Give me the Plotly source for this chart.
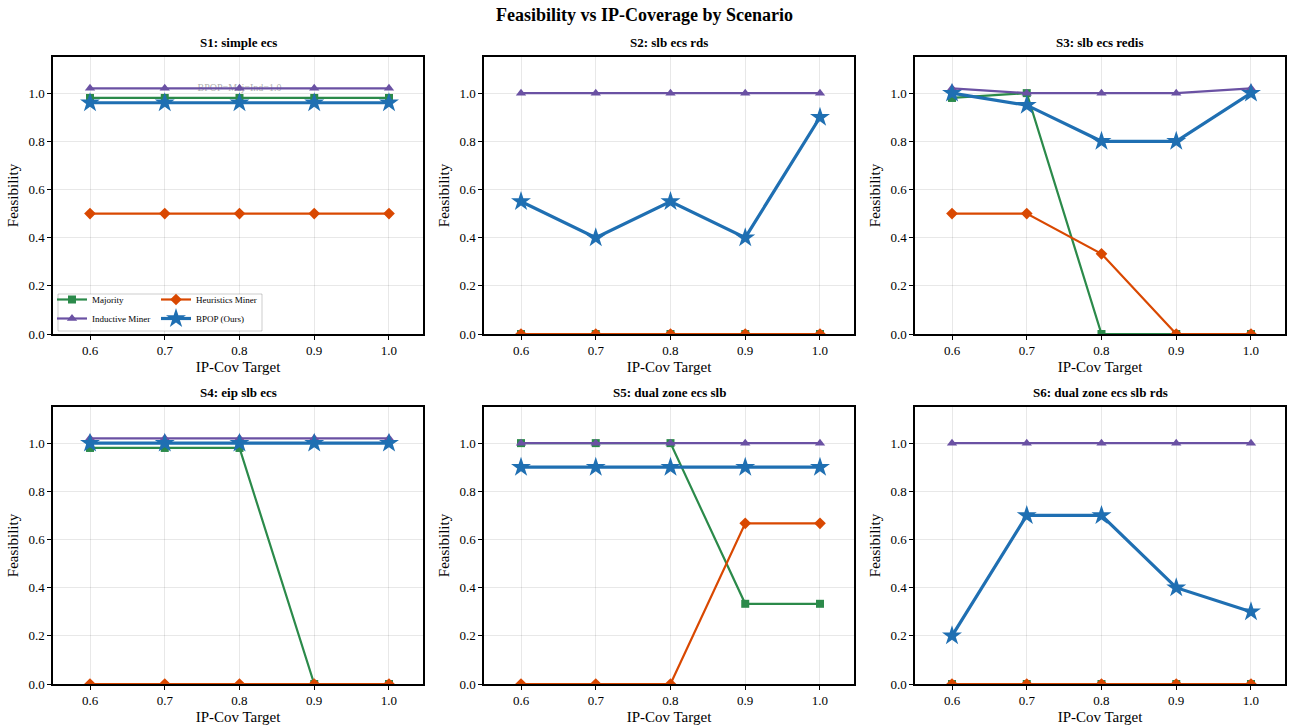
import plotly.graph_objects as go
from plotly.subplots import make_subplots

x_targets = [0.6, 0.7, 0.8, 0.9, 1.0]
scenario_titles = ["S1: simple ecs", "S2: slb ecs rds", "S3: slb ecs redis",
                   "S4: eip slb ecs", "S5: dual zone ecs slb", "S6: dual zone ecs slb rds"]

# plotted values (small offsets in the original to separate overlapping lines)
majority = [
    [0.98, 0.98, 0.98, 0.98, 0.98],
    [0.0, 0.0, 0.0, 0.0, 0.0],
    [0.98, 1.0, 0.0, 0.0, 0.0],
    [0.98, 0.98, 0.98, 0.0, 0.0],
    [1.0, 1.0, 1.0, 0.333, 0.333],
    [0.0, 0.0, 0.0, 0.0, 0.0],
]
inductive = [
    [1.02, 1.02, 1.02, 1.02, 1.02],
    [1.0, 1.0, 1.0, 1.0, 1.0],
    [1.02, 1.0, 1.0, 1.0, 1.02],
    [1.02, 1.02, 1.02, 1.02, 1.02],
    [1.0, 1.0, 1.0, 1.0, 1.0],
    [1.0, 1.0, 1.0, 1.0, 1.0],
]
heuristics = [
    [0.5, 0.5, 0.5, 0.5, 0.5],
    [0.0, 0.0, 0.0, 0.0, 0.0],
    [0.5, 0.5, 0.333, 0.0, 0.0],
    [0.0, 0.0, 0.0, 0.0, 0.0],
    [0.0, 0.0, 0.0, 0.667, 0.667],
    [0.0, 0.0, 0.0, 0.0, 0.0],
]
bpop = [
    [0.96, 0.96, 0.96, 0.96, 0.96],
    [0.55, 0.4, 0.55, 0.4, 0.9],
    [1.0, 0.95, 0.8, 0.8, 1.0],
    [1.0, 1.0, 1.0, 1.0, 1.0],
    [0.9, 0.9, 0.9, 0.9, 0.9],
    [0.2, 0.7, 0.7, 0.4, 0.3],
]
y_ticks = [0.0, 0.2, 0.4, 0.6, 0.8, 1.0]
x_ticks = [0.6, 0.7, 0.8, 0.9, 1.0]
note_text = "BPOP=Maj=Ind=1.0"

FONT = "Liberation Serif, Times New Roman, serif"
C_MAJ = "#2b8a4a"
C_IND = "#6a51a3"
C_HEU = "#d94801"
C_BP = "#1f6fb2"

fig = make_subplots(rows=2, cols=3)

series = [
    ("Majority", majority, C_MAJ, "square", 8, 2.2, "legend"),
    ("Inductive Miner", inductive, C_IND, "triangle-up", 9, 2.2, "legend"),
    ("Heuristics Miner", heuristics, C_HEU, "diamond", 9, 2.2, "legend2"),
    ("BPOP (Ours)", bpop, C_BP, "star", 15, 3.2, "legend2"),
]

for i in range(6):
    r, c = i // 3 + 1, i % 3 + 1
    if i == 0:
        fig.add_trace(go.Scatter(x=[0.8], y=[1.02], mode="text", text=[note_text],
                                 textfont=dict(family=FONT, size=10, color="rgba(120,120,120,0.6)"),
                                 showlegend=False, hoverinfo="skip"), row=r, col=c)
    for name, data, col, sym, ms, lw, lg in series:
        fig.add_trace(go.Scatter(
            x=x_targets, y=data[i], mode="lines+markers", name=name,
            line=dict(color=col, width=lw),
            marker=dict(symbol=sym, size=ms, color=col, line=dict(width=0)),
            showlegend=(i == 0), legend=lg), row=r, col=c)

xdoms = [[53/1289, 423/1289], [484/1289, 854/1289], [915/1289, 1285/1289]]
ydoms = [[1-334/726, 1-57/726], [1-684/726, 1-407/726]]

for i in range(6):
    r, c = i // 3, i % 3
    ax = "" if i == 0 else str(i + 1)
    fig.layout["xaxis" + ax].update(
        domain=xdoms[c], range=[0.5505, 1.0455], tickvals=x_ticks,
        ticktext=[f"{v:.1f}" for v in x_ticks], automargin=False,
        showline=True, linecolor="black", linewidth=1.5, mirror=True,
        ticks="outside", ticklen=4, tickcolor="black",
        showgrid=True, gridcolor="rgba(0,0,0,0.09)", zeroline=False,
        tickfont=dict(family=FONT, size=13, color="black"),
        title=dict(text="IP-Cov Target", font=dict(family=FONT, size=15, color="black"), standoff=4))
    fig.layout["yaxis" + ax].update(
        domain=ydoms[r], range=[0, 1.15], tickvals=y_ticks,
        ticktext=[f"{v:.1f}" for v in y_ticks], automargin=False,
        showline=True, linecolor="black", linewidth=1.5, mirror=True,
        ticks="outside", ticklen=4, tickcolor="black",
        showgrid=True, gridcolor="rgba(0,0,0,0.09)", zeroline=False,
        tickfont=dict(family=FONT, size=13, color="black"),
        title=dict(text="Feasibility", font=dict(family=FONT, size=15, color="black"), standoff=6))
    fig.add_annotation(text=f"<b>{scenario_titles[i]}</b>", xref="paper", yref="paper",
                       x=(xdoms[c][0] + xdoms[c][1]) / 2, y=ydoms[r][1], yshift=5,
                       xanchor="center", yanchor="bottom", showarrow=False,
                       font=dict(family=FONT, size=13, color="black"))

# legend frame
fig.add_shape(type="rect", xref="paper", yref="paper",
              x0=58/1289, x1=262/1289, y0=1-331/726, y1=1-294/726,
              line=dict(color="rgba(0,0,0,0.2)", width=1), fillcolor="rgba(255,255,255,0.85)",
              layer="above")

leg_common = dict(xref="paper", yref="paper", yanchor="bottom", xanchor="left",
                  bgcolor="rgba(0,0,0,0)", borderwidth=0, tracegroupgap=0,
                  itemwidth=30, font=dict(family=FONT, size=9, color="black"))
fig.update_layout(
    legend=dict(x=52/1289, y=1-333/726, **leg_common),
    legend2=dict(x=156/1289, y=1-333/726, **leg_common),
)

fig.update_layout(
    width=1289, height=726,
    margin=dict(l=0, r=0, t=0, b=0),
    paper_bgcolor="white", plot_bgcolor="white",
    title=dict(text="<b>Feasibility vs IP-Coverage by Scenario</b>", x=0.5, y=1-15/726,
               xanchor="center", yanchor="middle",
               font=dict(family=FONT, size=18, color="black")),
    font=dict(family=FONT),
)

fig.write_html("out.html")
